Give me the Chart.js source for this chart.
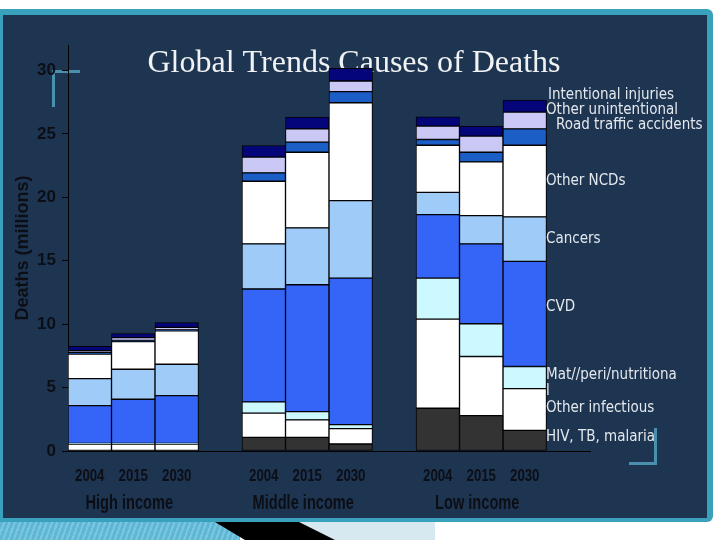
<!DOCTYPE html>
<html>
<head>
<meta charset="utf-8">
<script src="https://cdn.jsdelivr.net/npm/chart.js@4.4.1/dist/chart.umd.min.js"></script>
<style>
    body { margin: 0; background: #fff; width: 720px; height: 540px; overflow: hidden; position: relative; }
    .frame { position: absolute; left: 0; top: 9px; width: 713px; height: 513px; background: #3aa1bd; border-radius: 0 6px 6px 0; }
    .panel { position: absolute; left: 3px; top: 15px; width: 704px; height: 503px; background: #1e3552; }
    .stripes { position: absolute; left: 0; top: 522px; width: 240px; height: 18px;
        background: repeating-linear-gradient(110deg, #5fb7d6 0px, #5fb7d6 3px, #7cc6e0 3px, #7cc6e0 5px); }
    .blk { position: absolute; left: 215px; top: 522px; width: 120px; height: 18px; background: #000;
        clip-path: polygon(0 0, 70% 0, 100% 100%, 25% 100%); }
    .pale { position: absolute; left: 275px; top: 522px; width: 160px; height: 18px; background: #d6e8f0;
        clip-path: polygon(0 0, 100% 0, 100% 100%, 35% 100%); }
    .br1 { position: absolute; left: 52px; top: 70px; width: 25px; height: 34px; border-left: 3px solid #4a8fae; border-top: 3px solid #4a8fae; }
    .br2 { position: absolute; left: 629px; top: 428px; width: 25px; height: 34px; border-right: 3px solid #4a8fae; border-bottom: 3px solid #4a8fae; }
    canvas { position: absolute; left: 0; top: 0; }
</style>
</head>
<body>
<div class="frame"></div>
<div class="panel"></div>
<div class="stripes"></div>
<div class="pale"></div>
<div class="blk"></div>
<div class="br1"></div>
<div class="br2"></div>
<canvas id="myChart" width="720" height="540"></canvas>
<script>
// 12 slots: 3 bars per income group, one empty slot after each group
const years = ['2004', '2015', '2030', '', '2004', '2015', '2030', '', '2004', '2015', '2030', ''];
const groups = ['High income', 'Middle income', 'Low income'];
const groupSlots = [1, 5, 9];

// deaths in millions, bottom of the stack first
const hiv        = [0.05, 0.05, 0.05, null, 1.08, 1.08, 0.55, null, 3.37, 2.79, 1.63, null];
const otherInf   = [0.5, 0.5, 0.5, null, 1.9, 1.37, 1.21, null, 7.03, 4.66, 3.29, null];
const mat        = [0.05, 0.05, 0.05, null, 0.89, 0.65, 0.32, null, 3.23, 2.58, 1.74, null];
const cvd        = [2.98, 3.48, 3.77, null, 8.9, 10.0, 11.55, null, 5.0, 6.29, 8.29, null];
const cancers    = [2.13, 2.36, 2.47, null, 3.55, 4.48, 6.11, null, 1.76, 2.23, 3.5, null];
const otherNcd   = [1.92, 2.19, 2.63, null, 4.94, 5.97, 7.71, null, 3.71, 4.24, 5.65, null];
const road       = [0.12, 0.08, 0.08, null, 0.66, 0.79, 0.87, null, 0.45, 0.76, 1.29, null];
const otherUnint = [0.15, 0.22, 0.2, null, 1.24, 1.05, 0.84, null, 1.05, 1.27, 1.32, null];
const intent     = [0.35, 0.33, 0.38, null, 0.92, 0.92, 1.0, null, 0.74, 0.78, 0.95, null];

const yTicks = [0, 5, 10, 15, 20, 25, 30];

// side labels: text, value on the y axis where it sits, x offset
const sideLabels = [
    ['Intentional injuries', 28.03, 548],
    ['Other unintentional', 26.84, 546],
    ['Road traffic accidents', 25.66, 556],
    ['Other NCDs', 21.24, 546],
    ['Cancers', 16.74, 546],
    ['CVD', 11.37, 546],
    ['Mat//peri/nutritiona', 6.0, 546],
    ['l', 4.74, 546],
    ['Other infectious', 3.39, 546],
    ['HIV, TB, malaria', 1.11, 546]
];

const dark = '#0c0e16';

// narrow text: the reference uses a condensed face that is not installed
const narrowText = (ctx, text, x, y, squeeze) => {
    ctx.save();
    ctx.translate(x, y);
    ctx.scale(squeeze, 1);
    ctx.fillText(text, 0, 0);
    ctx.restore();
};

const slideText = {
    id: 'slideText',
    beforeDatasetsDraw(chart) {
        const ctx = chart.ctx;
        ctx.save();
        ctx.fillStyle = '#f0f2f4';
        ctx.font = '32px "Liberation Serif", "DejaVu Serif", serif';
        ctx.textAlign = 'center';
        ctx.textBaseline = 'alphabetic';
        ctx.fillText('Global Trends Causes of Deaths', 354, 72);
        ctx.restore();
    },
    afterDraw(chart) {
        const ctx = chart.ctx;
        const x = chart.scales.x;
        const y = chart.scales.y;
        ctx.save();
        ctx.fillStyle = dark;
        ctx.textAlign = 'center';
        ctx.textBaseline = 'middle';
        ctx.font = 'bold 17px "Liberation Sans", Arial, sans-serif';
        years.forEach((yr, i) => {
            if (yr) narrowText(ctx, yr, x.getPixelForValue(i), 476, 0.78);
        });
        ctx.font = 'bold 20px "Liberation Sans", Arial, sans-serif';
        groups.forEach((g, i) => {
            narrowText(ctx, g, x.getPixelForValue(groupSlots[i]) - 4, 503, 0.73);
        });
        ctx.fillStyle = '#e4e8ee';
        ctx.font = '15px "DejaVu Sans Condensed", "Liberation Sans", sans-serif';
        ctx.textAlign = 'left';
        sideLabels.forEach((l) => {
            narrowText(ctx, l[0], l[2], y.getPixelForValue(l[1]), 1);
        });
        ctx.restore();
    }
};

const series = [
    ['HIV, TB, malaria', hiv, '#333333'],
    ['Other infectious', otherInf, '#ffffff'],
    ['Mat/peri/nutritional', mat, '#ccf8ff'],
    ['CVD', cvd, '#3565f7'],
    ['Cancers', cancers, '#9ecbf8'],
    ['Other NCDs', otherNcd, '#ffffff'],
    ['Road traffic accidents', road, '#1b5ec6'],
    ['Other unintentional', otherUnint, '#cac9f6'],
    ['Intentional injuries', intent, '#05057a']
];

new Chart(document.getElementById('myChart').getContext('2d'), {
    type: 'bar',
    plugins: [slideText],
    data: {
        labels: years,
        datasets: series.map((s) => ({
            label: s[0],
            data: s[1],
            backgroundColor: s[2],
            borderColor: '#000',
            borderWidth: 1,
            borderSkipped: false,
            barPercentage: 1,
            categoryPercentage: 1
        }))
    },
    options: {
        responsive: false,
        animation: false,
        layout: {
            padding: { left: 12, top: 45, right: 130, bottom: 0 }
        },
        scales: {
            x: {
                stacked: true,
                grid: { display: false },
                border: { display: true, color: '#000', width: 1 },
                ticks: { display: false },
                afterFit: (scale) => { scale.height = 89; }
            },
            y: {
                stacked: true,
                min: 0,
                max: 32,
                grid: { display: true, drawOnChartArea: false, drawTicks: true, tickLength: 6, color: '#000' },
                border: { display: true, color: '#000', width: 1 },
                afterBuildTicks: (axis) => {
                    axis.ticks = yTicks.map((v) => ({ value: v }));
                },
                ticks: {
                    color: dark,
                    padding: 6,
                    font: { family: '"Liberation Sans", Arial, sans-serif', size: 17, weight: 'bold' }
                },
                title: {
                    display: true,
                    text: 'Deaths (millions)',
                    color: dark,
                    padding: 0,
                    font: { family: '"Liberation Sans", Arial, sans-serif', size: 18, weight: 'bold' }
                },
                afterFit: (scale) => { scale.width = 56; }
            }
        },
        plugins: {
            legend: { display: false },
            tooltip: { enabled: false }
        }
    }
});
</script>
</body>
</html>
